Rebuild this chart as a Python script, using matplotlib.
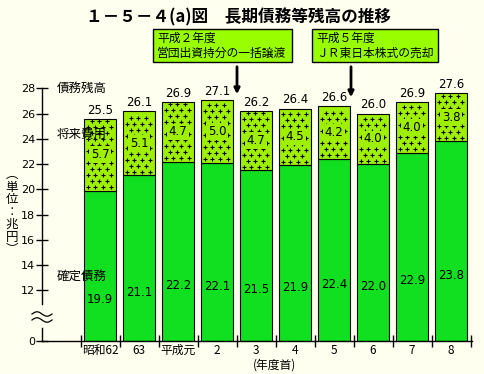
import matplotlib
matplotlib.use("Agg")
import matplotlib.pyplot as plt
import numpy as np
from matplotlib.patches import Rectangle
from matplotlib.transforms import Affine2D

plt.rcParams['font.family'] = ['Noto Sans CJK JP', 'DejaVu Sans']

# data (兆円)
years = ['昭和62', '63', '平成元', '2', '3', '4', '5', '6', '7', '8']
kakutei = [19.9, 21.1, 22.2, 22.1, 21.5, 21.9, 22.4, 22.0, 22.9, 23.8]   # 確定債務
shourai = [5.7, 5.1, 4.7, 5.0, 4.7, 4.5, 4.2, 4.0, 4.0, 3.8]            # 将来費用
zandaka = [25.5, 26.1, 26.9, 27.1, 26.2, 26.4, 26.6, 26.0, 26.9, 27.6]   # 債務残高
yticks = [12, 14, 16, 18, 20, 22, 24, 26, 28]

BASE = 8   # the broken axis draws "0" here
W, H = 484, 374
bg = '#FFFFF0'
green = '#10E020'
lime = '#9EF000'

fig = plt.figure(figsize=(W / 100, H / 100), dpi=100, facecolor=bg)
ax = fig.add_axes([42 / W, 33 / H, 430 / W, (341 - 88.3) / H])
ax.set_facecolor(bg)
# pixel coords, origin top-left
pix = Affine2D().scale(1, -1).translate(0, H).scale(1 / W, 1 / H) + fig.transFigure

x = np.arange(len(years))
kk = np.array(kakutei)
ss = np.array(shourai)
bw = 0.81

ax.bar(x, kk - BASE, bottom=BASE, width=bw, color=green, edgecolor='black', linewidth=0.8, zorder=2)
tops = ax.bar(x, ss, bottom=kk, width=bw, color=lime, edgecolor='black', linewidth=0.8, zorder=2)

# "+" dot pattern on 将来費用
dx, dy = 7.6 / 39, 6 / 12.64
for r in tops.patches:
    x0, y0, w, h = r.get_x(), r.get_y(), r.get_width(), r.get_height()
    px, py = [], []
    for j, yy in enumerate(np.arange(y0 + dy * 0.6, y0 + h - dy * 0.3, dy)):
        off = 0.05 if j % 2 == 0 else 0.05 + dx / 2
        for xx in np.arange(x0 + off + 0.04, x0 + w - 0.04, dx):
            px.append(xx)
            py.append(yy)
    sc = ax.scatter(px, py, marker='+', s=5, linewidths=0.8, color='black', zorder=3)
    sc.set_clip_path(r)

num = dict(family=['DejaVu Sans'], fontsize=8.5)
for i in range(len(years)):
    ax.annotate(f'{zandaka[i]:.1f}', (x[i], kk[i] + ss[i]), xytext=(0, 1.5),
                textcoords='offset points', ha='center', va='bottom', **num)
    ax.text(x[i], kk[i] + ss[i] / 2, f'{shourai[i]:.1f}', ha='center', va='center', zorder=4,
            bbox=dict(boxstyle='square,pad=0.15', facecolor=lime, edgecolor='none'), **num)
    ax.text(x[i], (kk[i] + 2.6) / 2, f'{kakutei[i]:.1f}', ha='center', va='center', zorder=4, **num)

ax.set_xlim((42 - 100) / 39, (472 - 100) / 39)
ax.set_ylim(BASE, 28)

for s in ['top', 'right']:
    ax.spines[s].set_visible(False)
ax.spines['left'].set_bounds(10.9, 28)
ax.spines['left'].set_linewidth(1)
ax.spines['bottom'].set_linewidth(1)
ax.plot([42, 42], [328, 341], color='black', lw=1, transform=pix, clip_on=False)
t = np.linspace(0, 1, 40)
for yc in (314, 320):
    ax.plot(32 + 20 * t, yc - 2.2 * np.sin(2 * np.pi * t), color='black', lw=0.9,
            transform=pix, clip_on=False)

ax.set_yticks([BASE] + yticks)
ax.set_yticklabels(['0'] + [str(v) for v in yticks], family=['DejaVu Sans'], fontsize=8)
ax.set_xticks(np.arange(len(years) + 1) - 0.5)
ax.set_xticklabels([])
ax.set_xticks(x, minor=True)
ax.set_xticklabels(years, minor=True, fontsize=8.5)
ax.tick_params(axis='both', which='major', direction='inout', length=8, width=1)
ax.tick_params(axis='y', pad=1)
ax.tick_params(axis='x', which='minor', length=0, pad=2)

# texts
fig.text(239 / W, 1 - 17 / H, '１－５－４(a)図　長期債務等残高の推移', ha='center', va='center',
         fontsize=12, fontweight='bold')
for lab, yy in [('債務残高', 88), ('将来費用', 134), ('確定債務', 276)]:
    ax.text(57, yy, lab, transform=pix, ha='left', va='center', fontsize=9, zorder=5)
ax.text(12, 212, '︵\n単\n位\n︰\n兆\n円\n︶', transform=pix, ha='center', va='center',
        fontsize=9, linespacing=0.95)
ax.text(275, 365, '(年度首)', transform=pix, ha='center', va='center', fontsize=8.5)

# callouts
boxes = [(153, 292, '平成２年度\n営団出資持分の一括譲渡', 237, 97),
         (312, 438, '平成５年度\nＪＲ東日本株式の売却', 351, 100)]
for x0, x1, txt, ax_x, tip in boxes:
    fig.patches.append(Rectangle((x0, 29), x1 - x0, 33, transform=pix, facecolor='#99FF00',
                                 edgecolor='black', linewidth=1))
    fig.text(x0 + 4, 46, txt, transform=pix, ha='left', va='center', fontsize=8.5, linespacing=1.2)
    ax.annotate('', xy=(ax_x, tip), xytext=(ax_x, 64), xycoords=pix, textcoords=pix,
                arrowprops=dict(arrowstyle='-|>', color='black', lw=2, mutation_scale=8),
                annotation_clip=False)

fig.savefig('out.png', dpi=100, facecolor=bg)
